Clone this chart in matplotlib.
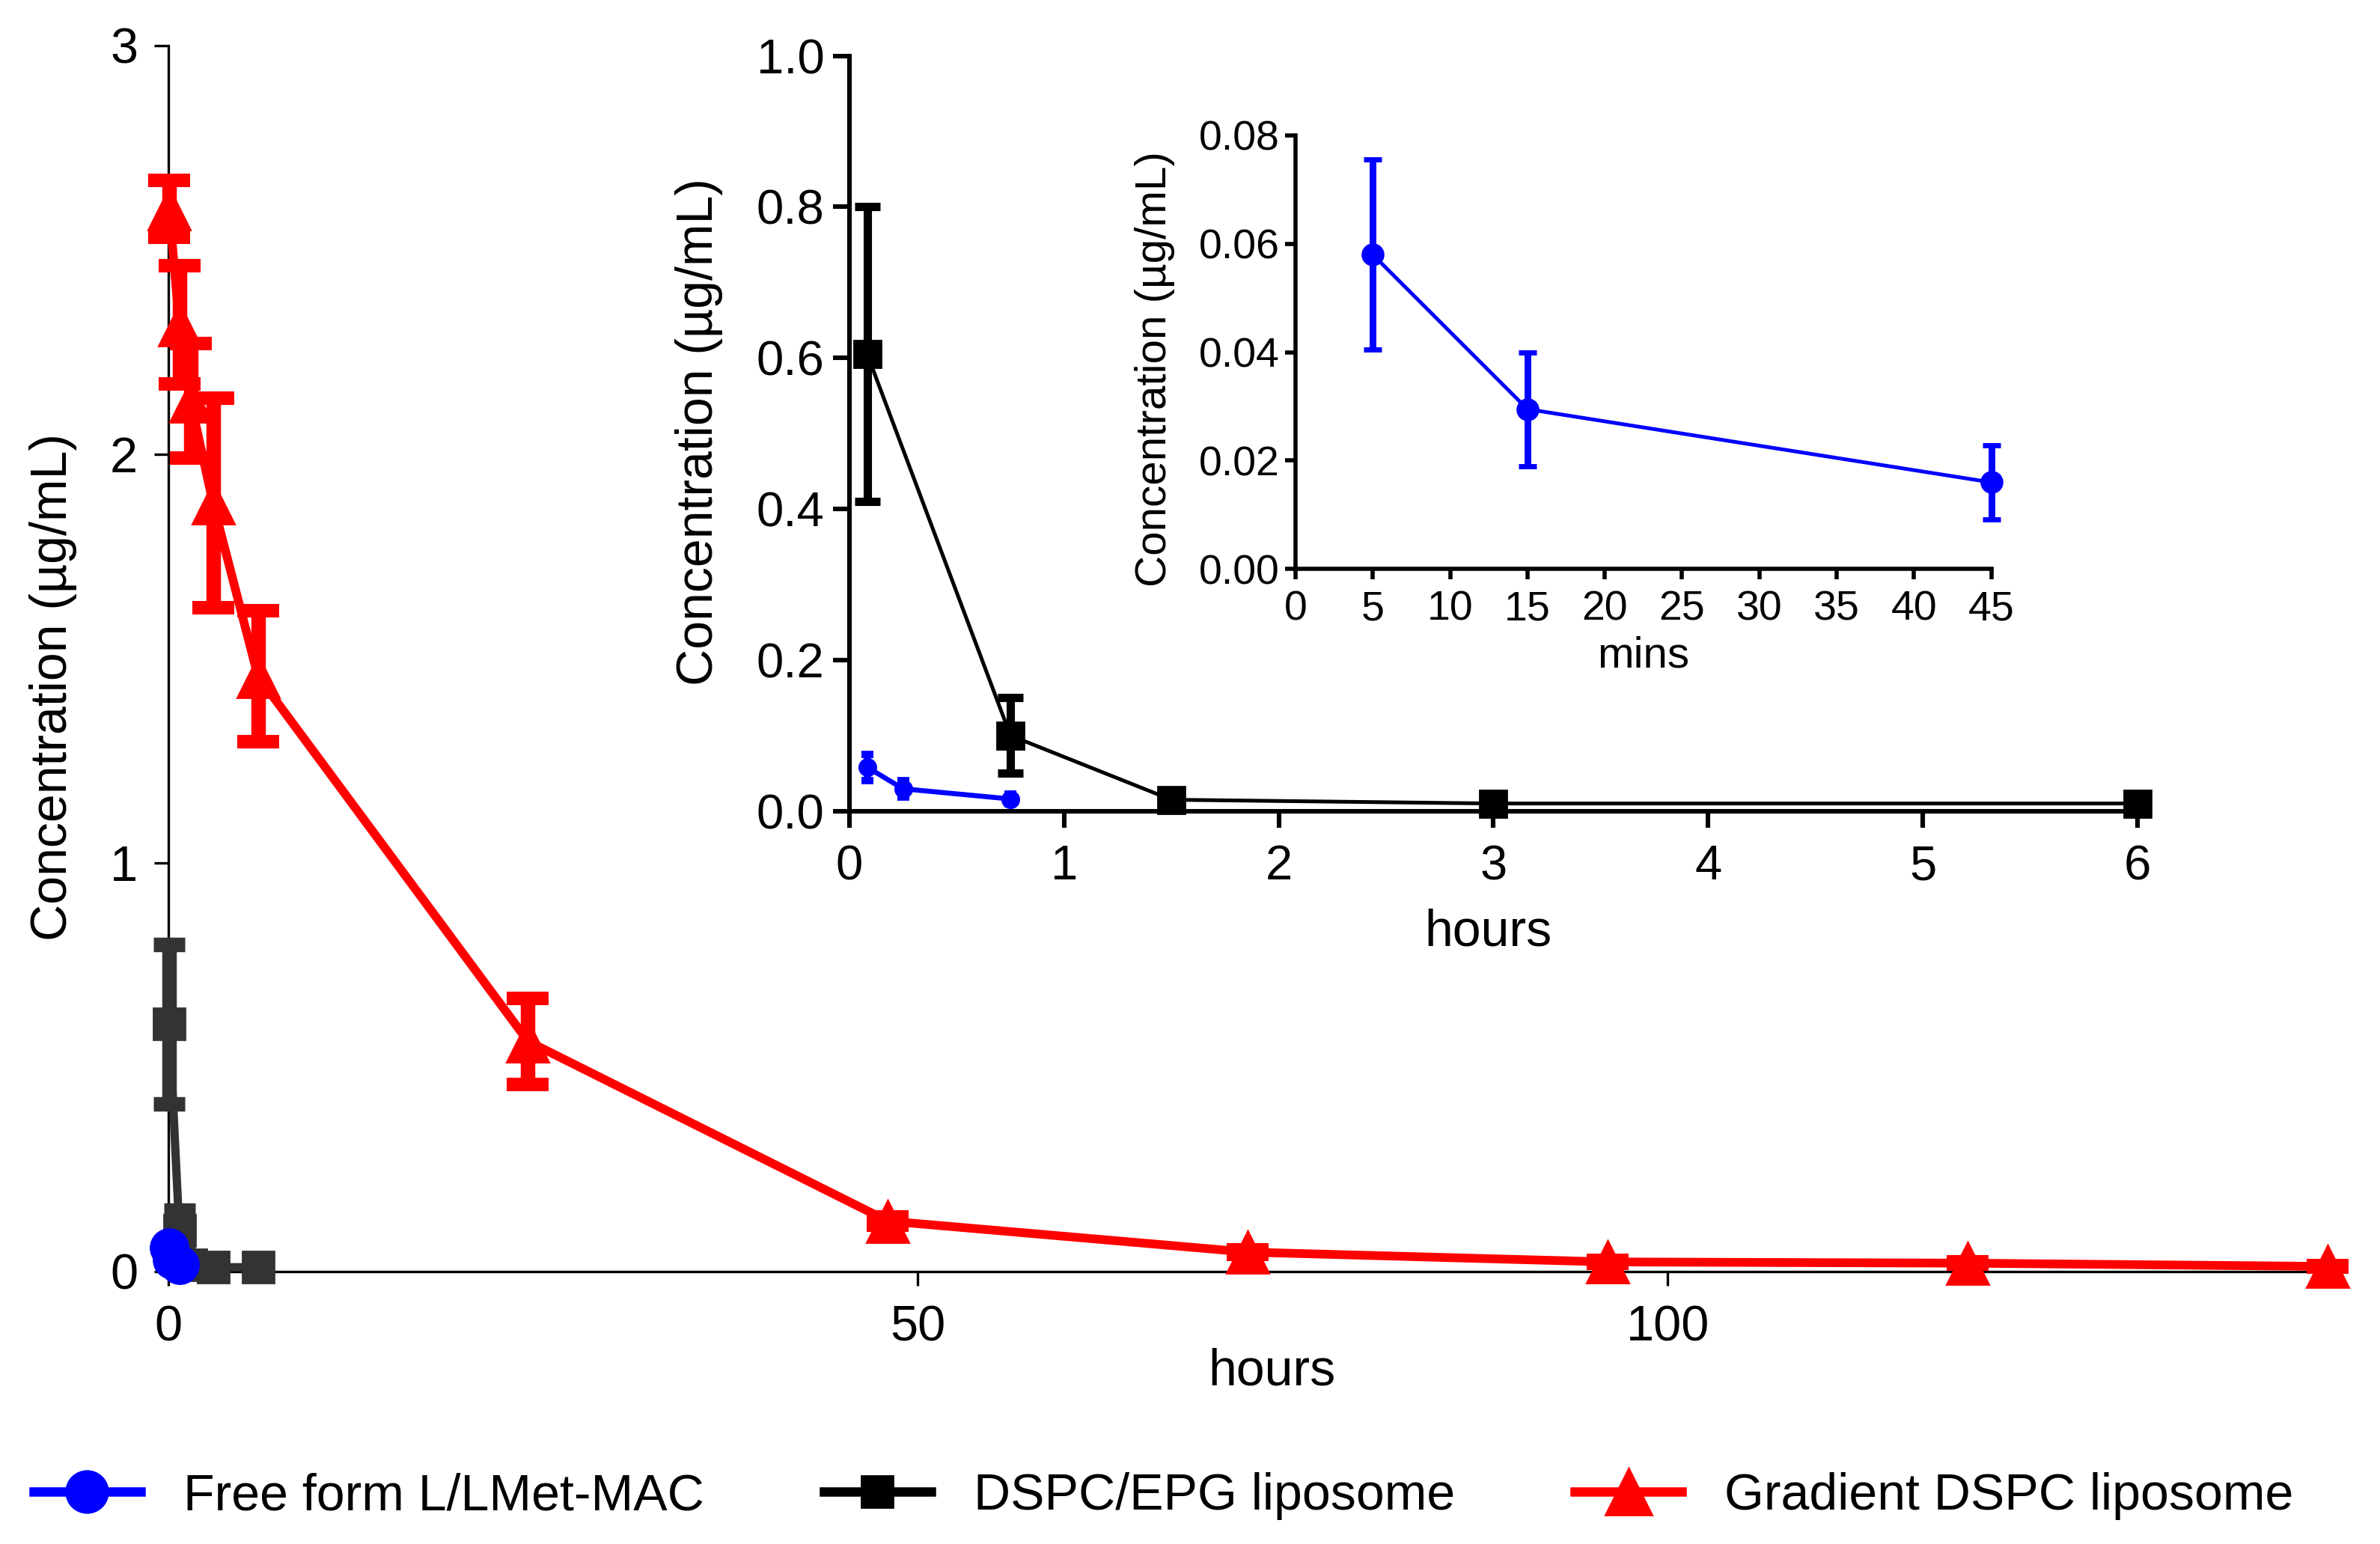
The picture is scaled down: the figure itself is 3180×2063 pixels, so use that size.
import matplotlib
matplotlib.use('Agg')
import matplotlib.pyplot as plt
from matplotlib.lines import Line2D

plt.rcParams['font.family'] = ['Liberation Sans', 'DejaVu Sans']

# ---------------- data ----------------
labels = ['Free form L/LMet-MAC', 'DSPC/EPG liposome', 'Gradient DSPC liposome']

blue_t = [0.083, 0.25, 0.75]           # hours
blue_v = [0.058, 0.0295, 0.016]
blue_e = [0.0175, 0.0105, 0.0068]

blue_min = [5, 15, 45]                 # minutes

black_t = [0.083, 0.75, 1.5, 3, 6]
black_v = [0.605, 0.10, 0.015, 0.010, 0.010]
black_e = [0.195, 0.05, 0.003, 0.002, 0.002]

red_t = [0.083, 0.75, 1.5, 3, 6, 24, 48, 72, 96, 120, 144]
red_v = [2.60, 2.316, 2.13, 1.88, 1.456, 0.563, 0.123, 0.047, 0.023, 0.020, 0.012]
red_e = [0.07, 0.145, 0.14, 0.256, 0.16, 0.105, 0.01, 0.005, 0.003, 0.003, 0.002]

main_xticks = [0, 50, 100]
main_yticks = [0, 1, 2, 3]
in1_xticks = [0, 1, 2, 3, 4, 5, 6]
in1_yticks = [0.0, 0.2, 0.4, 0.6, 0.8, 1.0]
in2_xticks = [0, 5, 10, 15, 20, 25, 30, 35, 40, 45]
in2_yticks = [0.00, 0.02, 0.04, 0.06, 0.08]

BLUE = '#0000ff'
RED = '#ff0000'
DARK = '#333333'
BLACK = '#000000'


def noclip(cont):
    for a in cont.get_children():
        a.set_clip_on(False)
    return cont


def style_axes(a, lw, tlen, tw, fs, pad_x, pad_y):
    for s in ['top', 'right']:
        a.spines[s].set_visible(False)
    for s in ['left', 'bottom']:
        a.spines[s].set_linewidth(lw)
    a.tick_params(axis='both', direction='out', length=tlen, width=tw, labelsize=fs)
    a.tick_params(axis='x', pad=pad_x)
    a.tick_params(axis='y', pad=pad_y)
    a.set_facecolor('none')


fig = plt.figure(figsize=(15.9, 10.315), dpi=200)

# ---------------- main axes ----------------
ax = fig.add_axes([0.0706, 0.1766, 0.9074, 0.7940])
noclip(ax.errorbar(black_t, black_v, yerr=black_e, color=DARK, marker='s', ms=15, lw=4,
                   elinewidth=7, capsize=7.5, capthick=7, zorder=3))
noclip(ax.errorbar(red_t, red_v, yerr=red_e, color=RED, marker='^', ms=20, lw=4.2,
                   elinewidth=7, capsize=10, capthick=6.5, zorder=4))
noclip(ax.errorbar(blue_t, blue_v, yerr=blue_e, color=BLUE, marker='o', ms=18, lw=4,
                   elinewidth=4, capsize=6, capthick=4, zorder=5))
ax.set_xlim(0, 144)
ax.set_ylim(0, 3)
ax.set_xticks(main_xticks)
ax.set_yticks(main_yticks)
style_axes(ax, 1.2, 7, 1.2, 24, 9, 7.5)
ax.set_xlabel('hours', fontsize=24.5)
ax.set_ylabel('Concentration (µg/mL)', fontsize=24.5)
ax.xaxis.label.set_va('center')
ax.yaxis.label.set_va('center')
ax.xaxis.set_label_coords(0.5110, -0.0815)
ax.yaxis.set_label_coords(-0.0532, 0.4766)

# ---------------- inset 1 (hours 0-6) ----------------
a1 = fig.add_axes([0.3569, 0.4747, 0.5412, 0.4891])
noclip(a1.errorbar(black_t, black_v, yerr=black_e, color=BLACK, marker='s', ms=13, lw=1.8,
                   elinewidth=4, capsize=6, capthick=4, zorder=3))
noclip(a1.errorbar(blue_t, blue_v, yerr=blue_e, color=BLUE, marker='o', ms=8, lw=2.4,
                   elinewidth=3.5, capsize=3, capthick=3.5, zorder=4))
a1.set_xlim(0, 6)
a1.set_ylim(0, 1.0)
a1.set_xticks(in1_xticks)
a1.set_yticks(in1_yticks)
a1.set_yticklabels([f'{v:.1f}' for v in in1_yticks])
style_axes(a1, 2.2, 8, 2.2, 23.5, 8, 4)
a1.set_xlabel('hours', fontsize=24.5)
a1.set_ylabel('Concentration (µg/mL)', fontsize=24.5)
a1.xaxis.label.set_va('center')
a1.yaxis.label.set_va('center')
a1.xaxis.set_label_coords(0.4960, -0.160)
a1.yaxis.set_label_coords(-0.1168, 0.502)

# ---------------- inset 2 (minutes) ----------------
a2 = fig.add_axes([0.5443, 0.6314, 0.2924, 0.2810])
noclip(a2.errorbar(blue_min, blue_v, yerr=blue_e, color=BLUE, marker='o', ms=10, lw=1.8,
                   elinewidth=3.2, capsize=4.3, capthick=2.5, zorder=4))
a2.set_xlim(0, 45)
a2.set_ylim(0, 0.08)
a2.set_xticks(in2_xticks)
a2.set_yticks(in2_yticks)
a2.set_yticklabels([f'{v:.2f}' for v in in2_yticks])
style_axes(a2, 2.0, 5, 2.0, 20, 5, 2.5)
a2.set_xlabel('mins', fontsize=21)
a2.set_ylabel('Concentration (µg/mL)', fontsize=21)
a2.xaxis.label.set_va('center')
a2.yaxis.label.set_va('center')
a2.xaxis.set_label_coords(0.5000, -0.201)
a2.yaxis.set_label_coords(-0.202, 0.461)

# ---------------- legend ----------------
handles = [
    Line2D([], [], color=BLUE, marker='o', ms=20, lw=4.5),
    Line2D([], [], color=BLACK, marker='s', ms=15, lw=4.5),
    Line2D([], [], color=RED, marker='^', ms=22, lw=4.5),
]
fig.legend(handles, labels, loc='center left', bbox_to_anchor=(45 / 3180, 0.0310),
           ncol=3, frameon=False, fontsize=24.5, handlelength=2.1, handletextpad=0.84,
           columnspacing=2.35, borderpad=0, borderaxespad=0)

fig.savefig('out.png', dpi=200)
